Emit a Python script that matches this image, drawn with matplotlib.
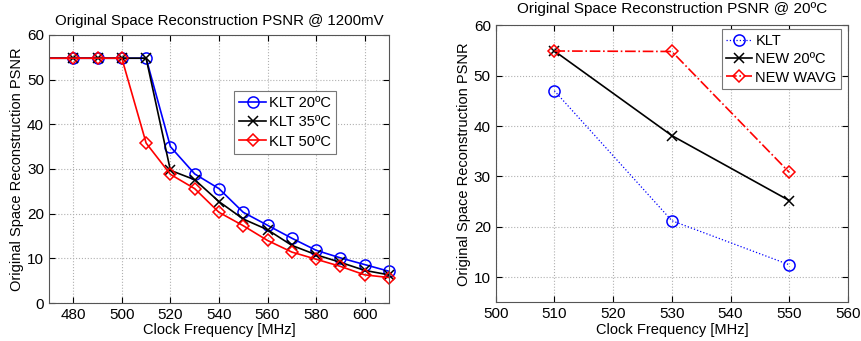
import numpy as np
import matplotlib
matplotlib.use('Agg')
import matplotlib.pyplot as plt

plt.rcParams['font.family'] = ['Liberation Sans', 'DejaVu Sans']

# Left panel: PSNR vs clock frequency at 1200mV
freq_left = [460, 470, 480, 490, 500, 510, 520, 530, 540, 550, 560, 570, 580, 590, 600, 610]
klt_20 = [54.8, 54.8, 54.8, 54.8, 54.8, 54.8, 35.0, 28.9, 25.6, 20.3, 17.4, 14.5, 11.8, 10.1, 8.6, 7.1]
klt_35 = [54.8, 54.8, 54.8, 54.8, 54.8, 54.8, 29.7, 27.6, 22.7, 18.8, 16.4, 12.9, 10.8, 9.1, 7.3, 6.3]
klt_50 = [54.8, 54.8, 54.8, 54.8, 54.8, 35.8, 28.8, 25.6, 20.3, 17.3, 14.0, 11.4, 9.8, 8.2, 6.3, 5.7]

# Right panel: PSNR vs clock frequency at 20C
freq_right = [510, 530, 550]
klt = [47.0, 21.2, 12.45]
new_20 = [54.9, 38.1, 25.2]
new_wavg = [54.9, 54.8, 30.8]

fig = plt.figure(figsize=(8.62, 3.41), dpi=100)
ax1 = fig.add_axes([0.0568, 0.1114, 0.3945, 0.7860])
ax2 = fig.add_axes([0.5750, 0.1135, 0.4088, 0.8123])

SIZES = {'o': 8, 'x': 7, 'D': 6.5}


def style_axes(ax):
    ax.grid(True, linestyle=':', color='#b0b0b0', linewidth=0.8)
    ax.tick_params(direction='in', top=True, right=True, labelsize=11, length=4)
    for sp in ax.spines.values():
        sp.set_color('#555555')
        sp.set_linewidth(0.8)


# left
fl = np.array(freq_left)
shown = fl >= 480
series = [(klt_20, 'blue', 'o', 'KLT 20ºC'),
          (klt_35, 'black', 'x', 'KLT 35ºC'),
          (klt_50, 'red', 'D', 'KLT 50ºC')]
for vals, c, m, lab in series:
    v = np.array(vals)
    ax1.plot(fl, v, color=c, linewidth=1.2)
    ax1.plot(fl[shown], v[shown], linestyle='none', marker=m, markersize=SIZES[m],
             markerfacecolor='none', markeredgecolor=c, markeredgewidth=1.1,
             clip_on=False)
    ax1.plot([], [], color=c, linewidth=1.2, marker=m, markerfacecolor='none',
             markeredgecolor=c, markeredgewidth=1.1, markersize=SIZES[m], label=lab)
ax1.set_xlim(470, 610)
ax1.set_ylim(0, 60)
ax1.set_xticks([480, 500, 520, 540, 560, 580, 600])
ax1.set_yticks([0, 10, 20, 30, 40, 50, 60])
ax1.set_xlabel('Clock Frequency [MHz]', fontsize=10.5, labelpad=1)
ax1.set_ylabel('Original Space Reconstruction PSNR', fontsize=10.5, labelpad=2)
ax1.set_title('Original Space Reconstruction PSNR @ 1200mV', fontsize=10.8, pad=7)
style_axes(ax1)
leg1 = ax1.legend(loc='upper left', bbox_to_anchor=(0.545, 0.79), fontsize=10.5,
                  fancybox=False, framealpha=1, edgecolor='#777777',
                  handlelength=1.8, handletextpad=0.2, borderpad=0.35, labelspacing=0.35,
                  borderaxespad=0)
leg1.get_frame().set_linewidth(0.8)

# right
ax2.plot(freq_right, klt, color='blue', linestyle=':', linewidth=0.9, marker='o',
         markersize=SIZES['o'], markerfacecolor='none', markeredgecolor='blue',
         markeredgewidth=1.1, label='KLT', clip_on=False)
ax2.plot(freq_right, new_20, color='black', linestyle='-', linewidth=1.2, marker='x',
         markersize=SIZES['x'], markeredgewidth=1.1, label='NEW 20ºC', clip_on=False)
ax2.plot(freq_right, new_wavg, color='red', linestyle='-.', linewidth=1.2, marker='D',
         markersize=SIZES['D'], markerfacecolor='none', markeredgecolor='red',
         markeredgewidth=1.1, label='NEW WAVG', clip_on=False)
ax2.set_xlim(500, 560)
ax2.set_ylim(5, 60)
ax2.set_xticks([500, 510, 520, 530, 540, 550, 560])
ax2.set_yticks([10, 20, 30, 40, 50, 60])
ax2.set_xlabel('Clock Frequency [MHz]', fontsize=10.5, labelpad=1)
ax2.set_ylabel('Original Space Reconstruction PSNR', fontsize=10.5, labelpad=2)
ax2.set_title('Original Space Reconstruction PSNR @ 20ºC', fontsize=11, pad=9)
style_axes(ax2)
leg2 = ax2.legend(loc='upper right', bbox_to_anchor=(0.98, 0.985), fontsize=10.5,
                  fancybox=False, framealpha=1, edgecolor='#777777',
                  handlelength=1.8, handletextpad=0.2, borderpad=0.3, labelspacing=0.3,
                  borderaxespad=0)
leg2.get_frame().set_linewidth(0.8)

fig.savefig('out.png', dpi=100)
